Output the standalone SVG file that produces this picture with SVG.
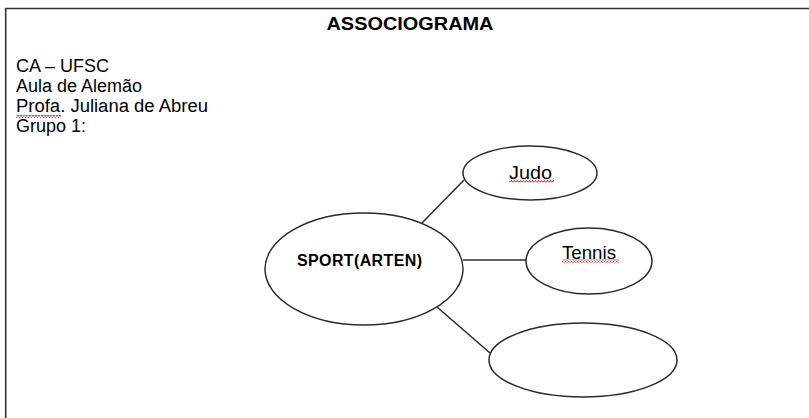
<svg xmlns="http://www.w3.org/2000/svg" width="809" height="418" viewBox="0 0 809 418">
<defs>
<style>
.frame{stroke:#333;stroke-width:1.6;fill:none}
.shape{fill:#fff;stroke:#2a2a2a;stroke-width:1.5}
.conn{stroke:#2a2a2a;stroke-width:1.5;fill:none}
.t{font-family:"Liberation Sans",Arial,sans-serif;font-size:18px;fill:#000}
.b{font-weight:bold}
</style>
<pattern id="sq" x="0" y="0" width="3" height="3" patternUnits="userSpaceOnUse">
<path d="M0 2.6 L1.5 0.4 L3 2.6" fill="none" stroke="#d11" stroke-width="1"/>
</pattern>
</defs>
<rect width="809" height="418" fill="#fff"/>
<path class="frame" d="M5.7 418 V8.5 H809"/>
<text class="t b" x="410" y="30" text-anchor="middle" textLength="167" lengthAdjust="spacingAndGlyphs">ASSOCIOGRAMA</text>
<g id="header">
<text class="t" x="16" y="72">CA – UFSC</text>
<text class="t" x="16" y="92">Aula de Alemão</text>
<text class="t" x="16" y="112" textLength="192" lengthAdjust="spacingAndGlyphs">Profa. Juliana de Abreu</text>
<text class="t" x="16" y="132">Grupo 1:</text>
<rect x="16" y="115" width="45" height="3" fill="url(#sq)"/>
</g>
<g id="connectors">
<line class="conn" x1="422" y1="223" x2="464" y2="180"/>
<line class="conn" x1="463" y1="260" x2="526" y2="260"/>
<line class="conn" x1="437" y1="307" x2="490" y2="353"/>
</g>
<g id="sport">
<ellipse class="shape" cx="364" cy="269" rx="99" ry="56"/>
<text class="t b" x="297" y="266" style="font-size:16px" textLength="125" lengthAdjust="spacing">SPORT(ARTEN)</text>
</g>
<g id="judo">
<ellipse class="shape" cx="530" cy="173" rx="67" ry="27"/>
<text class="t" x="509" y="179" textLength="43" lengthAdjust="spacingAndGlyphs">Judo</text>
<rect x="509" y="179.5" width="45" height="3" fill="url(#sq)"/>
</g>
<g id="tennis">
<ellipse class="shape" cx="589" cy="261" rx="63" ry="33"/>
<text class="t" x="562" y="259" textLength="54" lengthAdjust="spacingAndGlyphs">Tennis</text>
<rect x="562" y="259.5" width="57" height="3" fill="url(#sq)"/>
</g>
<g id="empty">
<ellipse class="shape" cx="583" cy="360" rx="94" ry="37"/>
</g>
</svg>
